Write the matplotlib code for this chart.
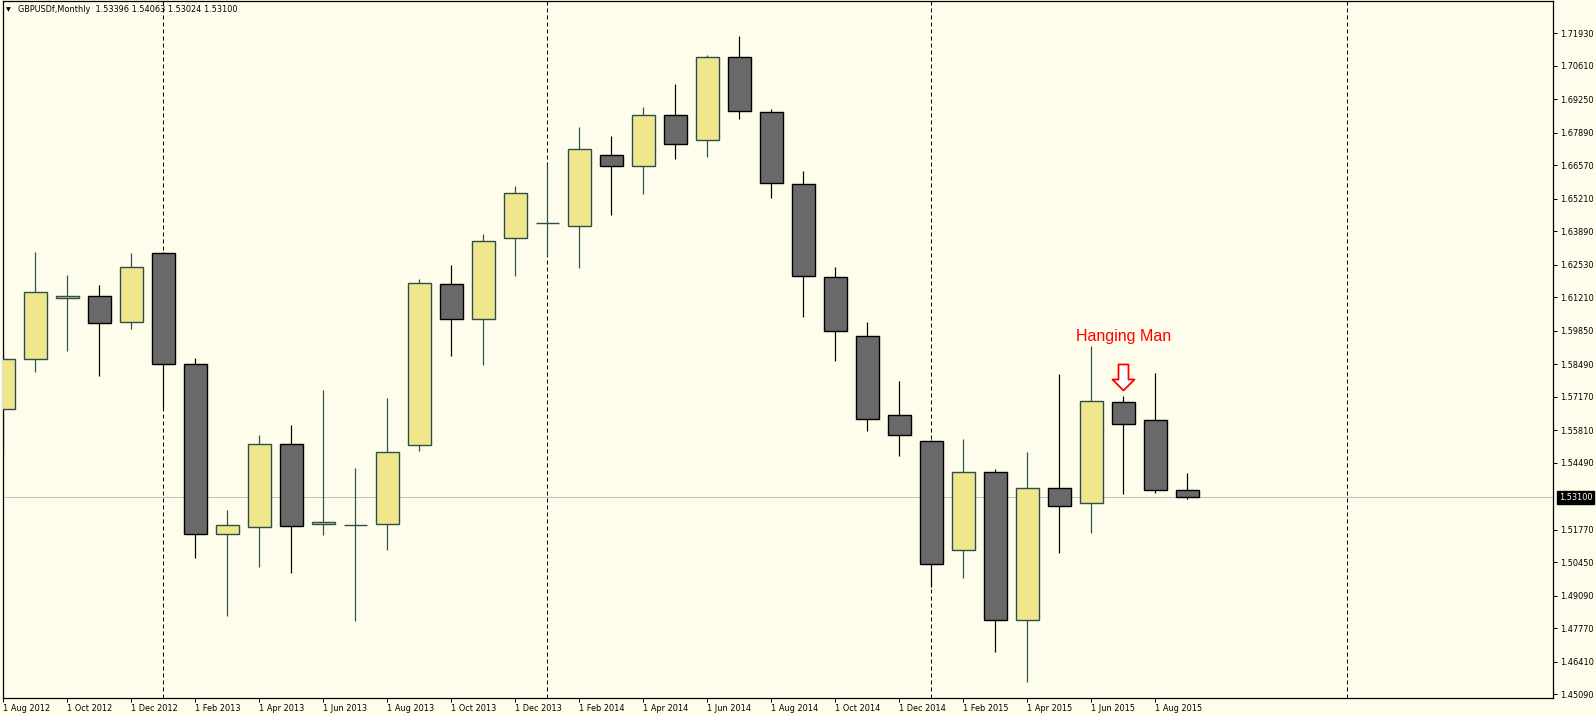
import matplotlib
matplotlib.use("Agg")
import matplotlib.pyplot as plt
from matplotlib.path import Path
from matplotlib import transforms

# monthly GBPUSD candles, Aug 2012 .. Sep 2015
opens = [1.5666, 1.5869, 1.6117, 1.6125, 1.6020, 1.6300, 1.5849, 1.5159, 1.5187, 1.5524,
         1.5200, 1.5197, 1.5200, 1.5520, 1.6174, 1.6032, 1.6361, 1.6424, 1.6409, 1.6700,
         1.6653, 1.6860, 1.6759, 1.7096, 1.6872, 1.6580, 1.6202, 1.5966, 1.5642, 1.5536,
         1.5094, 1.5411, 1.4810, 1.5346, 1.5285, 1.5695, 1.5622, 1.53396]
highs = [1.5907, 1.6305, 1.6212, 1.6171, 1.6301, 1.6305, 1.5875, 1.5258, 1.5562, 1.5603,
         1.5745, 1.5428, 1.5712, 1.6195, 1.6252, 1.6378, 1.6573, 1.6661, 1.6813, 1.6776,
         1.6894, 1.6987, 1.7105, 1.7182, 1.6884, 1.6634, 1.6244, 1.6019, 1.5781, 1.5540,
         1.5546, 1.5423, 1.5492, 1.5810, 1.5923, 1.5720, 1.5814, 1.54063]
lows = [1.5484, 1.5819, 1.5904, 1.5803, 1.5994, 1.5670, 1.5064, 1.4828, 1.5027, 1.5003,
        1.5157, 1.4808, 1.5096, 1.5498, 1.5884, 1.5847, 1.6209, 1.6289, 1.6241, 1.6456,
        1.6542, 1.6684, 1.6690, 1.6846, 1.6526, 1.6042, 1.5864, 1.5580, 1.5478, 1.4946,
        1.4983, 1.4682, 1.4560, 1.5084, 1.5165, 1.5324, 1.5328, 1.53024]
closes = [1.5869, 1.6141, 1.6125, 1.6016, 1.6243, 1.5849, 1.5159, 1.5195, 1.5524, 1.5191,
          1.5208, 1.5197, 1.5492, 1.6178, 1.6032, 1.6348, 1.6543, 1.6424, 1.6722, 1.6653,
          1.6860, 1.6742, 1.7096, 1.6878, 1.6584, 1.6206, 1.5983, 1.5625, 1.5561, 1.5037,
          1.5411, 1.4810, 1.5346, 1.5273, 1.5699, 1.5606, 1.5338, 1.53100]

x_labels = ["1 Aug 2012", "1 Oct 2012", "1 Dec 2012", "1 Feb 2013", "1 Apr 2013", "1 Jun 2013",
            "1 Aug 2013", "1 Oct 2013", "1 Dec 2013", "1 Feb 2014", "1 Apr 2014", "1 Jun 2014",
            "1 Aug 2014", "1 Oct 2014", "1 Dec 2014", "1 Feb 2015", "1 Apr 2015", "1 Jun 2015",
            "1 Aug 2015"]
y_ticks = [1.71930, 1.70610, 1.69250, 1.67890, 1.66570, 1.65210, 1.63890, 1.62530, 1.61210,
           1.59850, 1.58490, 1.57170, 1.55810, 1.54490, 1.51770, 1.50450, 1.49090, 1.47770,
           1.46410, 1.45090]
year_starts = [5, 17, 29, 42]   # bar index of the period separators
last_price = 1.53100
pattern_bar = 35                # Jul 2015, the hanging man

bg = "#FEFCEA"
bull_fill, bull_edge = "#F0E68C", "#2F4F4F"
bear_fill, bear_edge = "#696969", "#000000"
px = 0.72  # one pixel in points at dpi 100

fig = plt.figure(figsize=(15.96, 7.16), dpi=100, facecolor=bg)
ax = fig.add_axes([2.7 / 1596, 18.3 / 716, 1550.6 / 1596, 696.7 / 716])
ax.set_facecolor(bg)

n = len(opens)
xs = list(range(n))

# period separators and current price line under the candles
for xv in year_starts:
    ax.axvline(xv, color="black", lw=px, ls=(0, (4, 3)), zorder=1)
ax.axhline(last_price, color="#C0C0C0", lw=px, zorder=1)

for i in xs:
    up = closes[i] >= opens[i]
    edge = bull_edge if up else bear_edge
    fill = bull_fill if up else bear_fill
    ax.vlines(i, lows[i], highs[i], color=edge, lw=px * 1.2, zorder=2)
    lo, hi = min(opens[i], closes[i]), max(opens[i], closes[i])
    ax.bar(i, hi - lo, bottom=lo, width=0.72, color=fill, edgecolor=edge,
           linewidth=px * 1.4, zorder=3)

ax.set_xlim(-0.019, 48.44)
ax.set_ylim(1.44955, 1.73241)

# axes / ticks
for s in ax.spines.values():
    s.set_color("black")
    s.set_linewidth(0.9)
ax.yaxis.tick_right()
ax.set_yticks(y_ticks)
ax.set_yticklabels(["%.5f" % v for v in y_ticks])
ax.set_xticks(list(range(0, 37, 2)))
ax.set_xticklabels(x_labels)
for lbl in ax.get_xticklabels():
    lbl.set_horizontalalignment("left")
ax.tick_params(axis="both", direction="out", length=3, width=px, colors="black",
               labelsize=5.9, pad=1.5)
ax.tick_params(axis="x", pad=1.2)

# current price tag on the price axis
tag_tr = transforms.blended_transform_factory(ax.transAxes, ax.transData)
tag_tr = tag_tr + transforms.ScaledTranslation(5.5 / 100, 0, fig.dpi_scale_trans)
ax.text(1.0, last_price, "%.5f" % last_price, transform=tag_tr, color="white",
        fontsize=5.9, va="center", ha="left", clip_on=False,
        bbox=dict(boxstyle="square,pad=0.25", fc="black", ec="black"))

# header
fig.text(6 / 1596, 1 - 10 / 716, "\u25BC", fontsize=4.5, va="center", ha="left", color="black")
fig.text(18 / 1596, 1 - 10 / 716,
         "GBPUSDf,Monthly  %.5f %.5f %.5f %.5f" % (opens[-1], highs[-1], lows[-1], closes[-1]),
         fontsize=5.9, va="center", ha="left", color="black")

# hanging man annotation
arrow = Path([(-5, 13), (5, 13), (5, -2), (11, -2), (0, -13), (-11, -2), (-5, -2), (-5, 13)],
             [Path.MOVETO] + [Path.LINETO] * 6 + [Path.CLOSEPOLY])
ax.plot(pattern_bar, 1.5798, marker=arrow, markersize=26 * px, mfc="white", mec="red",
        mew=1.3, zorder=5)
ax.text(pattern_bar, 1.5964, "Hanging Man", color="red", fontsize=11.5,
        family="Liberation Sans", ha="center", va="center", zorder=5)

fig.savefig("out.png", dpi=100, facecolor=bg)
